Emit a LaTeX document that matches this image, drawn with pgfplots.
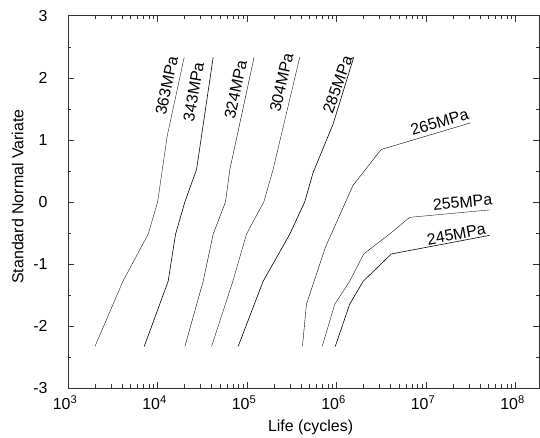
\documentclass[border=0pt]{standalone}
\usepackage{pgfplots}
\pgfplotsset{compat=1.18}
\usepackage{fontspec}
\setmainfont{Liberation Sans}

\begin{document}
\begin{tikzpicture}
\begin{axis}[
    scale only axis,
    width=471bp, height=372.3bp,
    xmode=log,
    xmin=1000, xmax=1.83e8,
    ymin=-3, ymax=3,
    font=\fontsize{16}{19}\selectfont,
    axis line style={black!80},
    tick align=inside, tick pos=both,
    major tick length=6bp, minor tick length=3.5bp,
    every tick/.style={black!80},
    xtick={1e3,1e4,1e5,1e6,1e7,1e8},
    xticklabels={10\textsuperscript{3},10\textsuperscript{4},10\textsuperscript{5},
                 10\textsuperscript{6},10\textsuperscript{7},10\textsuperscript{8}},
    minor xtick={2e3,3e3,4e3,5e3,6e3,7e3,8e3,9e3,
                 2e4,3e4,4e4,5e4,6e4,7e4,8e4,9e4,
                 2e5,3e5,4e5,5e5,6e5,7e5,8e5,9e5,
                 2e6,3e6,4e6,5e6,6e6,7e6,8e6,9e6,
                 2e7,3e7,4e7,5e7,6e7,7e7,8e7,9e7},
    ytick={-3,-2,-1,0,1,2,3},
    yticklabels={-3,-2,-1,0,1,2,3},
    minor ytick={-2.5,-1.5,-0.5,0.5,1.5,2.5},
    xticklabel style={yshift=-4bp, xshift=-3bp},
    yticklabel style={xshift=-17bp},
    xlabel={Life (cycles)},
    ylabel={Standard Normal Variate},
    every axis x label/.style={at={(axis description cs:0.515,-0.105)}, anchor=center},
    every axis y label/.style={at={(axis description cs:-0.107,0.514)}, rotate=90, anchor=center},
    cycle list={{black!90, line width=0.6pt, no markers}},
]

% 363 MPa
\addplot coordinates {(2000,-2.33) (4140,-1.27) (7870,-0.52) (10030,0) (12830,1.06) (19860,2.33)};
% 343 MPa
\addplot coordinates {(7110,-2.33) (13150,-1.28) (15920,-0.52) (20230,0) (27300,0.52) (41880,2.33)};
% 324 MPa
\addplot coordinates {(20230,-2.33) (32370,-1.28) (41880,-0.52) (57550,0) (64290,0.52) (119900,2.33)};
% 304 MPa
\addplot coordinates {(40180,-2.33) (69500,-1.28) (98630,-0.52) (154200,0) (195500,0.52) (388100,2.33)};
% 285 MPa
\addplot coordinates {(79620,-2.33) (151400,-1.28) (300700,-0.52) (441700,0) (547000,0.47) (914000,1.25) (1556000,2.33)};
% 265 MPa
\addplot coordinates {(416000,-2.33) (461500,-1.65) (757000,-0.72) (1528000,0.265) (3155000,0.844) (31500000,1.273)};
% 255 MPa
\addplot coordinates {(692000,-2.33) (955000,-1.65) (1403000,-1.28) (2013000,-0.84) (4070000,-0.50) (6560000,-0.25) (51300000,-0.13)};
% 245 MPa
\addplot coordinates {(968000,-2.33) (1403000,-1.65) (1986000,-1.28) (4100000,-0.84) (51300000,-0.54)};

\node[rotate=78] at (axis cs:12637,1.873) {363MPa};
\node[rotate=80] at (axis cs:25290,1.772) {343MPa};
\node[rotate=78] at (axis cs:74640,1.809) {324MPa};
\node[rotate=77] at (axis cs:242700,1.921) {304MPa};
\node[rotate=70] at (axis cs:1026000,1.889) {285MPa};
\node[rotate=16.5] at (axis cs:14180000,1.286) {265MPa};
\node[rotate=5.5] at (axis cs:25620000,-0.008) {255MPa};
\node[rotate=10.5] at (axis cs:21780000,-0.522) {245MPa};

\end{axis}
\path ([xshift=-68bp,yshift=-49.7bp]current axis.south west)
      rectangle ([xshift=1bp,yshift=15.7bp]current axis.north east);
\end{tikzpicture}
\end{document}
